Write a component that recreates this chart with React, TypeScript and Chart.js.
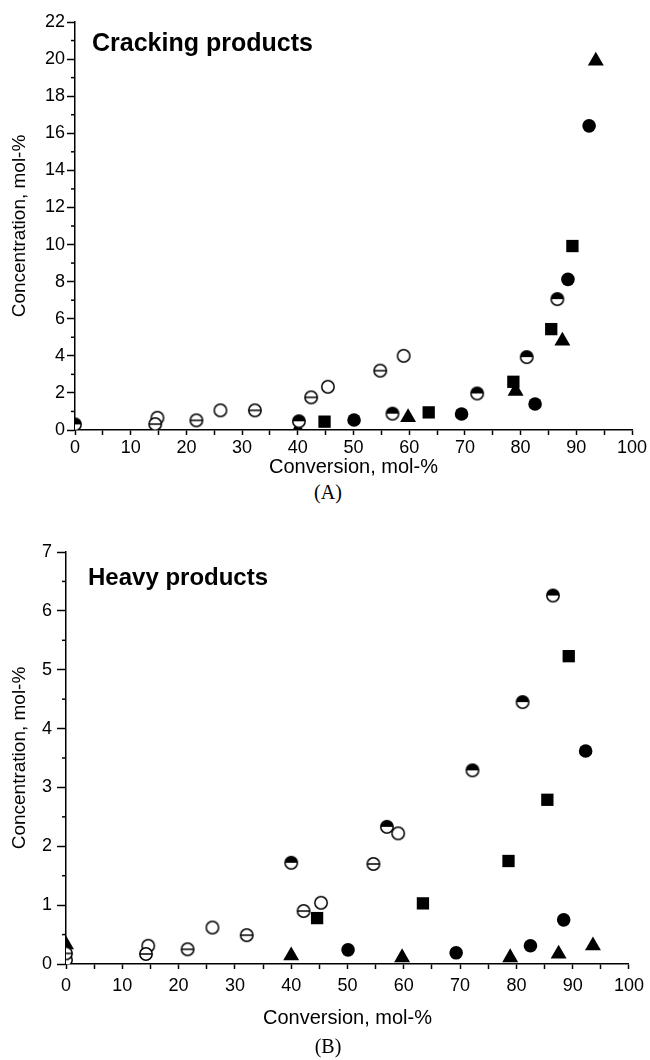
import React, { useEffect, useRef } from 'react';
import { Chart, registerables } from 'chart.js';

Chart.register(...registerables);

// ---------- Panel A: Cracking products ----------
const crackHalfX = [0, 40.2, 57.0, 72.2, 81.1, 86.6];
const crackHalfY = [0.3, 0.47, 0.88, 1.97, 3.93, 7.06];
const crackThetaX = [14.4, 21.8, 32.3, 42.4, 54.8];
const crackThetaY = [0.32, 0.52, 1.06, 1.76, 3.2];
const crackOpenX = [14.8, 26.1, 45.4, 59.0];
const crackOpenY = [0.66, 1.06, 2.33, 4.0];
const crackSquareX = [44.8, 63.5, 78.7, 85.5, 89.3];
const crackSquareY = [0.45, 0.95, 2.6, 5.44, 9.92];
const crackCircleX = [50.1, 69.4, 82.6, 88.5, 92.3];
const crackCircleY = [0.54, 0.86, 1.4, 8.12, 16.4];
const crackTriangleX = [40.0, 59.8, 79.1, 87.5, 93.5];
const crackTriangleY = [0.0, 0.68, 2.1, 4.8, 19.9];

// ---------- Panel B: Heavy products ----------
const heavyHalfX = [40.0, 57.0, 72.2, 81.1, 86.5];
const heavyHalfY = [1.72, 2.33, 3.29, 4.45, 6.26];
const heavyThetaX = [0, 14.2, 21.6, 32.1, 42.2, 54.6];
const heavyThetaY = [0.18, 0.17, 0.25, 0.49, 0.9, 1.7];
const heavyOpenX = [0, 14.6, 26.0, 45.3, 59.0];
const heavyOpenY = [0.07, 0.31, 0.62, 1.04, 2.22];
const heavySquareX = [44.6, 63.4, 78.6, 85.5, 89.3];
const heavySquareY = [0.78, 1.03, 1.75, 2.79, 5.23];
const heavyCircleX = [50.1, 69.3, 82.5, 88.4, 92.3];
const heavyCircleY = [0.24, 0.19, 0.31, 0.75, 3.62];
const heavyTriangleX = [0, 40.0, 59.7, 78.9, 87.5, 93.6];
const heavyTriangleY = [0.33, 0.14, 0.11, 0.11, 0.17, 0.31];

// ---------- Axes ----------
const xMin = 0;
const xMax = 100;
const xStep = 5;
const xLabelStep = 10;
const crackYMax = 22;
const crackYStep = 2;
const crackYMinor = 1;
const heavyYMax = 7;
const heavyYStep = 1;
const heavyYMinor = 0.5;

const xTitle = 'Conversion, mol-%';
const yTitle = 'Concentration, mol-%';

const SANS = '"Liberation Sans", Arial, sans-serif';

function makeMarker(kind: 'open' | 'theta' | 'half'): HTMLCanvasElement {
  const s = 18;
  const c = document.createElement('canvas');
  c.width = s;
  c.height = s;
  const ctx = c.getContext('2d')!;
  const r = 6.2;
  const cx = s / 2;
  const cy = s / 2;
  ctx.lineWidth = 1.5;
  ctx.strokeStyle = '#000';
  ctx.fillStyle = '#fff';
  ctx.beginPath();
  ctx.arc(cx, cy, r, 0, Math.PI * 2);
  ctx.fill();
  if (kind === 'half') {
    ctx.fillStyle = '#000';
    ctx.beginPath();
    ctx.arc(cx, cy, r, Math.PI, Math.PI * 2);
    ctx.closePath();
    ctx.fill();
  }
  ctx.beginPath();
  ctx.arc(cx, cy, r, 0, Math.PI * 2);
  ctx.stroke();
  if (kind === 'theta') {
    ctx.beginPath();
    ctx.moveTo(cx - r, cy);
    ctx.lineTo(cx + r, cy);
    ctx.stroke();
  }
  return c;
}

function ds(label: string, xs: number[], ys: number[], style: any, radius: number) {
  return {
    label,
    data: xs.map((x, i) => ({ x, y: ys[i] })),
    pointStyle: style,
    pointRadius: radius,
    pointHoverRadius: radius,
    pointBackgroundColor: '#000',
    pointBorderColor: '#000',
    pointBorderWidth: 0,
    showLine: false,
    clip: 0,
  };
}

const decorPlugin = {
  id: 'decor',
  afterDraw(chart: any, _args: any, opts: any) {
    const { ctx, chartArea } = chart;
    const y = chart.scales.y;
    ctx.save();
    ctx.strokeStyle = '#000';
    ctx.lineWidth = 1.5;
    const n = Math.round((y.max - y.min) / opts.minor);
    for (let k = 0; k <= n; k++) {
      const v = y.min + k * opts.minor;
      const q = v / opts.major;
      if (Math.abs(q - Math.round(q)) < 1e-6) continue;
      const py = y.getPixelForValue(v);
      ctx.beginPath();
      ctx.moveTo(chartArea.left - opts.minorLen, py);
      ctx.lineTo(chartArea.left, py);
      ctx.stroke();
    }
    ctx.font = 'bold ' + opts.titleSize + 'px ' + SANS;
    ctx.fillStyle = '#000';
    ctx.textBaseline = 'alphabetic';
    ctx.textAlign = 'left';
    ctx.fillText(opts.title, chartArea.left + opts.titleDx, chartArea.top + opts.titleDy);
    ctx.restore();
  },
};

type PanelCfg = {
  top: number;
  height: number;
  datasets: any[];
  yMax: number;
  yStep: number;
  yMinor: number;
  yWidth: number;
  xHeight: number;
  padTop: number;
  yTickLen: number;
  yTickPad: number;
  xTickPad: number;
  xTitlePad: number;
  title: string;
  titleDx: number;
  titleDy: number;
  titleSize: number;
};

function buildConfig(cfg: PanelCfg): any {
  return {
    type: 'scatter',
    data: { datasets: cfg.datasets },
    options: {
      animation: false,
      responsive: false,
      maintainAspectRatio: false,
      events: [],
      layout: { padding: { top: cfg.padTop, right: 18, left: 0, bottom: 0 } },
      plugins: {
        legend: { display: false },
        tooltip: { enabled: false },
        decor: {
          minor: cfg.yMinor,
          major: cfg.yStep,
          minorLen: 4,
          title: cfg.title,
          titleDx: cfg.titleDx,
          titleDy: cfg.titleDy,
          titleSize: cfg.titleSize,
        },
      },
      scales: {
        x: {
          type: 'linear',
          min: xMin,
          max: xMax,
          afterFit: (s: any) => {
            s.height = cfg.xHeight;
          },
          border: { display: true, color: '#000', width: 1.5 },
          grid: { drawOnChartArea: false, drawTicks: true, tickLength: 5, tickColor: '#000', tickWidth: 1.5 },
          ticks: {
            stepSize: xStep,
            autoSkip: false,
            maxRotation: 0,
            color: '#000',
            padding: cfg.xTickPad,
            font: { family: SANS, size: 18 },
            callback: (v: any) => (Math.abs(v % xLabelStep) < 1e-6 ? String(v) : ''),
          },
          title: {
            display: true,
            text: xTitle,
            color: '#000',
            font: { family: SANS, size: 20 },
            padding: { top: 0, bottom: cfg.xTitlePad },
          },
        },
        y: {
          type: 'linear',
          min: 0,
          max: cfg.yMax,
          afterFit: (s: any) => {
            s.width = cfg.yWidth;
          },
          border: { display: true, color: '#000', width: 1.5 },
          grid: { drawOnChartArea: false, drawTicks: true, tickLength: cfg.yTickLen, tickColor: '#000', tickWidth: 1.5 },
          ticks: {
            stepSize: cfg.yStep,
            autoSkip: false,
            color: '#000',
            padding: cfg.yTickPad,
            font: { family: SANS, size: 18 },
          },
          title: {
            display: true,
            text: yTitle,
            color: '#000',
            font: { family: SANS, size: 19 },
            padding: { top: 8, bottom: 0 },
          },
        },
      },
    },
    plugins: [decorPlugin],
  };
}

function Panel({ cfg }: { cfg: PanelCfg }) {
  const ref = useRef<HTMLCanvasElement>(null);
  useEffect(() => {
    const chart = new Chart(ref.current as HTMLCanvasElement, buildConfig(cfg));
    return () => chart.destroy();
  }, []);
  return (
    <canvas
      ref={ref}
      width={650}
      height={cfg.height}
      style={{ position: 'absolute', left: 0, top: cfg.top, width: 650, height: cfg.height }}
    />
  );
}

export default function App() {
  const open = makeMarker('open');
  const theta = makeMarker('theta');
  const half = makeMarker('half');

  const panelA: PanelCfg = {
    top: 0,
    height: 480,
    datasets: [
      ds('half', crackHalfX, crackHalfY, half, 6.5),
      ds('theta', crackThetaX, crackThetaY, theta, 6.5),
      ds('open', crackOpenX, crackOpenY, open, 6.5),
      ds('square', crackSquareX, crackSquareY, 'rect', 8.7),
      ds('circle', crackCircleX, crackCircleY, 'circle', 6.8),
      ds('triangle', crackTriangleX, crackTriangleY, 'triangle', 9.2),
    ],
    yMax: crackYMax,
    yStep: crackYStep,
    yMinor: crackYMinor,
    yWidth: 75,
    xHeight: 50,
    padTop: 22,
    yTickLen: 8,
    yTickPad: 2,
    xTickPad: 2,
    xTitlePad: 1,
    title: 'Cracking products',
    titleDx: 17,
    titleDy: 29,
    titleSize: 25,
  };

  const panelB: PanelCfg = {
    top: 500,
    height: 540,
    datasets: [
      ds('half', heavyHalfX, heavyHalfY, half, 6.5),
      ds('theta', heavyThetaX, heavyThetaY, theta, 6.5),
      ds('open', heavyOpenX, heavyOpenY, open, 6.5),
      ds('square', heavySquareX, heavySquareY, 'rect', 8.7),
      ds('circle', heavyCircleX, heavyCircleY, 'circle', 6.8),
      ds('triangle', heavyTriangleX, heavyTriangleY, 'triangle', 9.2),
    ],
    yMax: heavyYMax,
    yStep: heavyYStep,
    yMinor: heavyYMinor,
    yWidth: 66,
    xHeight: 76,
    padTop: 52,
    yTickLen: 9,
    yTickPad: 5,
    xTickPad: 6,
    xTitlePad: 10,
    title: 'Heavy products',
    titleDx: 22,
    titleDy: 33,
    titleSize: 24,
  };

  const caption: React.CSSProperties = {
    position: 'absolute',
    left: 228,
    width: 200,
    textAlign: 'center',
    fontFamily: '"Liberation Serif", "Times New Roman", serif',
    fontSize: 20,
    lineHeight: '20px',
    color: '#000',
  };

  return (
    <div style={{ position: 'absolute', left: 0, top: 0, width: 650, height: 1060, background: '#fff' }}>
      <Panel cfg={panelA} />
      <div style={{ ...caption, top: 482 }}>(A)</div>
      <Panel cfg={panelB} />
      <div style={{ ...caption, top: 1036 }}>(B)</div>
    </div>
  );
}
